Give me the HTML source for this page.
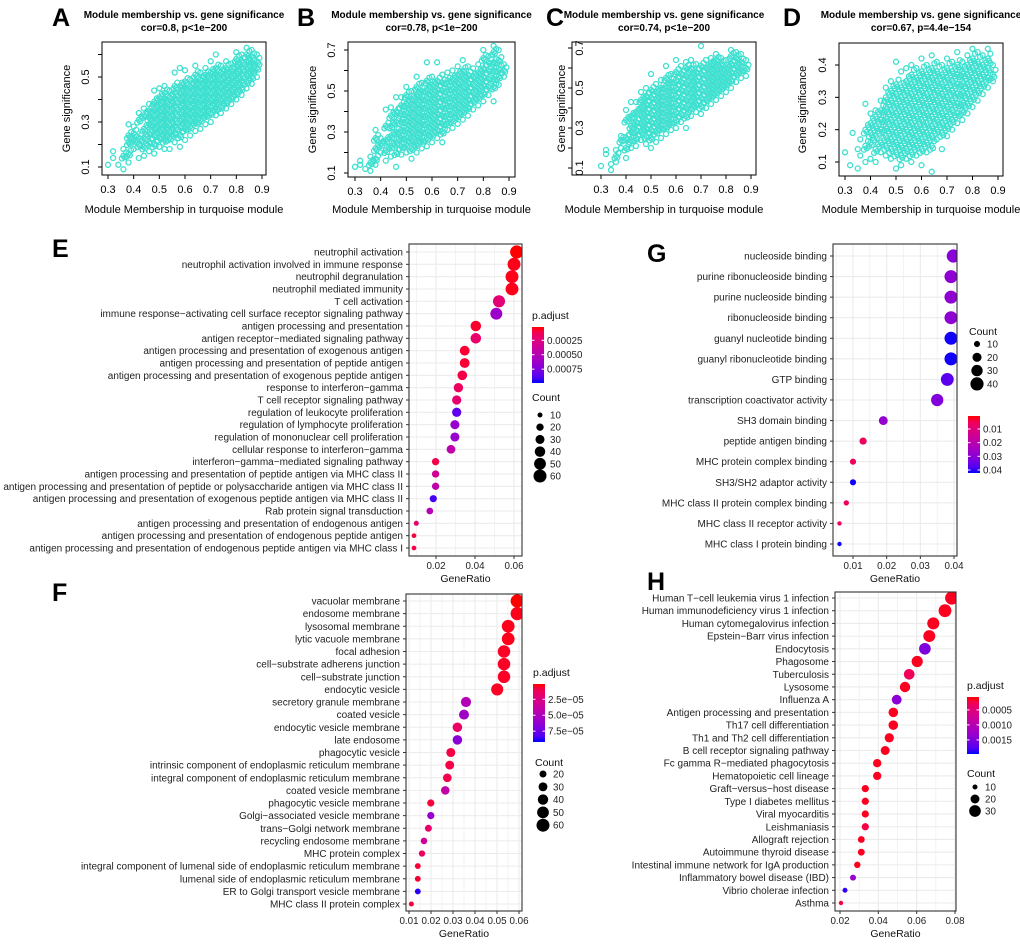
<!DOCTYPE html>
<html><head><meta charset="utf-8"><style>
html,body{margin:0;padding:0;background:#fff;}
svg{display:block;font-family:"Liberation Sans",Arial,sans-serif;}
</style></head><body>
<svg id="fig" width="1020" height="947" viewBox="0 0 1020 947" xmlns="http://www.w3.org/2000/svg"></svg>
<script>
// ---------- Scatter data (columns: x, list of y) ----------
const scatterA=[[0.30,[0.11]],[0.32,[0.14,0.17]],[0.34,[0.11]],[0.36,[0.09,0.15,0.18]],[0.38,[0.12,0.16,0.21,0.24,0.29]],[0.40,[0.18,0.22,0.25,0.28]],[0.42,[0.14,0.20,0.23,0.31,0.34]],[0.44,[0.15,0.19,0.23,0.27,0.33,0.36]],[0.46,[0.17,0.21,0.25,0.29,0.32,0.35,0.38]],[0.48,[0.16,0.20,0.24,0.27,0.30,0.33,0.36,0.39,0.44]],[0.50,[0.19,0.23,0.26,0.29,0.32,0.35,0.38,0.41,0.45]],[0.52,[0.18,0.22,0.25,0.28,0.31,0.34,0.37,0.40,0.43,0.46]],[0.54,[0.18,0.23,0.26,0.29,0.32,0.35,0.38,0.41,0.44]],[0.56,[0.21,0.25,0.28,0.31,0.34,0.37,0.40,0.43,0.46,0.52]],[0.58,[0.19,0.24,0.28,0.31,0.34,0.37,0.40,0.43,0.46,0.54]],[0.60,[0.22,0.27,0.30,0.33,0.36,0.39,0.42,0.45,0.48,0.53]],[0.62,[0.24,0.28,0.31,0.34,0.37,0.40,0.43,0.46,0.49]],[0.64,[0.26,0.30,0.33,0.36,0.39,0.42,0.45,0.48,0.51,0.55]],[0.66,[0.27,0.31,0.34,0.37,0.40,0.43,0.46,0.49,0.52]],[0.68,[0.29,0.33,0.36,0.39,0.42,0.45,0.48,0.51,0.54]],[0.70,[0.30,0.34,0.37,0.40,0.43,0.46,0.49,0.52,0.57]],[0.72,[0.33,0.36,0.39,0.42,0.45,0.48,0.51,0.54,0.60]],[0.74,[0.34,0.37,0.40,0.43,0.46,0.49,0.52,0.55]],[0.76,[0.36,0.39,0.42,0.45,0.48,0.51,0.54,0.57]],[0.78,[0.38,0.41,0.44,0.47,0.50,0.53,0.56]],[0.80,[0.40,0.43,0.46,0.49,0.52,0.55,0.58,0.61]],[0.82,[0.42,0.45,0.48,0.51,0.54,0.57,0.60]],[0.84,[0.45,0.48,0.51,0.54,0.57,0.60,0.63]],[0.86,[0.47,0.50,0.53,0.56,0.59,0.62]],[0.88,[0.50,0.54,0.57,0.60]]];
const scatterB=[[0.30,[0.13]],[0.32,[0.16,0.14]],[0.34,[0.12]],[0.36,[0.11,0.15,0.18]],[0.38,[0.14,0.17,0.22,0.27,0.31]],[0.40,[0.20,0.24,0.27]],[0.42,[0.16,0.21,0.26,0.33,0.41]],[0.44,[0.18,0.23,0.28,0.33,0.38,0.42]],[0.46,[0.13,0.20,0.25,0.30,0.35,0.40,0.47]],[0.48,[0.19,0.23,0.27,0.31,0.35,0.39,0.43,0.47]],[0.50,[0.20,0.24,0.28,0.32,0.36,0.40,0.44,0.48,0.52]],[0.52,[0.17,0.22,0.26,0.30,0.34,0.38,0.42,0.46,0.50]],[0.54,[0.20,0.24,0.28,0.32,0.36,0.40,0.44,0.48,0.52,0.57]],[0.56,[0.22,0.26,0.30,0.34,0.38,0.42,0.46,0.50,0.54]],[0.58,[0.23,0.27,0.31,0.35,0.39,0.43,0.47,0.51,0.55,0.64]],[0.60,[0.25,0.29,0.33,0.37,0.41,0.45,0.49,0.53,0.57]],[0.62,[0.27,0.31,0.35,0.39,0.43,0.47,0.51,0.55,0.64]],[0.64,[0.25,0.30,0.34,0.38,0.42,0.46,0.50,0.54,0.58]],[0.66,[0.31,0.35,0.39,0.43,0.47,0.51,0.55,0.59]],[0.68,[0.32,0.36,0.40,0.44,0.48,0.52,0.56,0.60]],[0.70,[0.34,0.38,0.42,0.46,0.50,0.54,0.58,0.62]],[0.72,[0.36,0.40,0.44,0.48,0.52,0.56,0.60,0.65]],[0.74,[0.38,0.42,0.46,0.50,0.54,0.58,0.62]],[0.76,[0.41,0.45,0.49,0.53,0.57,0.61]],[0.78,[0.43,0.47,0.51,0.55,0.59,0.63]],[0.80,[0.45,0.49,0.53,0.57,0.61,0.66,0.70]],[0.82,[0.48,0.52,0.56,0.60,0.64,0.67]],[0.84,[0.45,0.52,0.56,0.60,0.64,0.69,0.72]],[0.86,[0.53,0.57,0.61,0.65,0.70]],[0.88,[0.57,0.60,0.63]]];
const scatterC=[[0.30,[0.11]],[0.32,[0.17,0.19]],[0.34,[0.09,0.12]],[0.36,[0.13,0.16,0.19]],[0.38,[0.20,0.24,0.26]],[0.40,[0.15,0.20,0.25,0.34,0.39]],[0.42,[0.20,0.24,0.28,0.31,0.36,0.43]],[0.44,[0.21,0.25,0.29,0.33,0.38,0.43]],[0.46,[0.24,0.28,0.32,0.36,0.40,0.44,0.48]],[0.48,[0.22,0.26,0.30,0.34,0.38,0.42,0.46,0.50]],[0.50,[0.20,0.25,0.29,0.33,0.37,0.41,0.45,0.49,0.57]],[0.52,[0.23,0.28,0.32,0.36,0.40,0.44,0.48,0.52]],[0.54,[0.25,0.30,0.34,0.38,0.42,0.46,0.50,0.54]],[0.56,[0.27,0.31,0.35,0.39,0.43,0.47,0.51,0.55,0.61]],[0.58,[0.29,0.33,0.37,0.41,0.45,0.49,0.53,0.57]],[0.60,[0.30,0.34,0.38,0.42,0.46,0.50,0.54,0.58,0.64]],[0.62,[0.33,0.37,0.41,0.45,0.49,0.53,0.57,0.61]],[0.64,[0.30,0.36,0.40,0.44,0.48,0.52,0.56,0.60,0.63]],[0.66,[0.36,0.40,0.44,0.48,0.52,0.56,0.60,0.64]],[0.68,[0.38,0.42,0.46,0.50,0.54,0.58,0.62]],[0.70,[0.37,0.41,0.45,0.49,0.53,0.57,0.61,0.71]],[0.72,[0.40,0.44,0.48,0.52,0.56,0.60,0.64]],[0.74,[0.42,0.46,0.50,0.54,0.58,0.62,0.65]],[0.76,[0.44,0.48,0.52,0.56,0.60,0.64,0.67]],[0.78,[0.46,0.50,0.54,0.58,0.62,0.65]],[0.80,[0.48,0.52,0.56,0.60,0.64]],[0.82,[0.50,0.54,0.58,0.62,0.66,0.69]],[0.84,[0.53,0.57,0.61,0.65,0.68]],[0.86,[0.55,0.59,0.63,0.67]],[0.88,[0.56,0.60,0.64]]];
const scatterD=[[0.30,[0.13]],[0.32,[0.09]],[0.33,[0.19]],[0.35,[0.14,0.08]],[0.36,[0.17,0.12]],[0.38,[0.10,0.15,0.20,0.28]],[0.40,[0.11,0.16,0.19,0.22,0.25]],[0.42,[0.10,0.14,0.18,0.21,0.24,0.26]],[0.44,[0.13,0.16,0.20,0.23,0.26,0.29]],[0.46,[0.12,0.15,0.18,0.21,0.24,0.27,0.30,0.33]],[0.48,[0.11,0.14,0.17,0.20,0.23,0.26,0.29,0.32,0.35]],[0.50,[0.08,0.13,0.16,0.19,0.22,0.25,0.28,0.31,0.34,0.41]],[0.52,[0.09,0.12,0.15,0.18,0.21,0.24,0.27,0.30,0.33,0.38]],[0.54,[0.11,0.14,0.17,0.20,0.23,0.26,0.29,0.32,0.35,0.39]],[0.56,[0.10,0.13,0.16,0.19,0.22,0.25,0.28,0.31,0.34,0.37,0.40]],[0.58,[0.12,0.15,0.18,0.21,0.24,0.27,0.30,0.33,0.36,0.39]],[0.60,[0.09,0.14,0.17,0.20,0.23,0.26,0.29,0.32,0.35,0.38,0.42]],[0.62,[0.13,0.16,0.19,0.22,0.25,0.28,0.31,0.34,0.37,0.40]],[0.64,[0.07,0.15,0.18,0.21,0.24,0.27,0.30,0.33,0.36,0.39,0.43]],[0.66,[0.17,0.20,0.23,0.26,0.29,0.32,0.35,0.38,0.41]],[0.68,[0.14,0.19,0.22,0.25,0.28,0.31,0.34,0.37,0.40]],[0.70,[0.18,0.21,0.24,0.27,0.30,0.33,0.36,0.39,0.42]],[0.72,[0.20,0.23,0.26,0.29,0.32,0.35,0.38,0.41]],[0.74,[0.22,0.25,0.28,0.31,0.34,0.37,0.40,0.44]],[0.76,[0.23,0.26,0.29,0.32,0.35,0.38,0.41]],[0.78,[0.25,0.28,0.31,0.34,0.37,0.40,0.43]],[0.80,[0.27,0.30,0.33,0.36,0.39,0.42,0.45]],[0.82,[0.29,0.32,0.35,0.38,0.41,0.44]],[0.84,[0.31,0.34,0.37,0.40,0.43]],[0.86,[0.33,0.36,0.39,0.42,0.45]],[0.88,[0.35,0.37,0.40]]];
const corLabels=["cor=0.8, p<1e\u2212200","cor=0.78, p<1e\u2212200","cor=0.74, p<1e\u2212200","cor=0.67, p=4.4e\u2212154"];
const scatterXTicks=[0.3,0.4,0.5,0.6,0.7,0.8,0.9];
const yTicksA=[0.1,0.2,0.3,0.4,0.5,0.6], yLabA=[0.1,0.3,0.5];
const yTicksB=[0.1,0.2,0.3,0.4,0.5,0.6,0.7], yLabB=[0.1,0.3,0.5,0.7];
const yTicksD=[0.1,0.2,0.3,0.4], yLabD=[0.1,0.2,0.3,0.4];

// ---------- Dot plot data ----------
const termsE=["neutrophil activation","neutrophil activation involved in immune response","neutrophil degranulation","neutrophil mediated immunity","T cell activation","immune response\u2212activating cell surface receptor signaling pathway","antigen processing and presentation","antigen receptor\u2212mediated signaling pathway","antigen processing and presentation of exogenous antigen","antigen processing and presentation of peptide antigen","antigen processing and presentation of exogenous peptide antigen","response to interferon\u2212gamma","T cell receptor signaling pathway","regulation of leukocyte proliferation","regulation of lymphocyte proliferation","regulation of mononuclear cell proliferation","cellular response to interferon\u2212gamma","interferon\u2212gamma\u2212mediated signaling pathway","antigen processing and presentation of peptide antigen via MHC class II","antigen processing and presentation of peptide or polysaccharide antigen via MHC class II","antigen processing and presentation of exogenous peptide antigen via MHC class II","Rab protein signal transduction","antigen processing and presentation of endogenous antigen","antigen processing and presentation of endogenous peptide antigen","antigen processing and presentation of endogenous peptide antigen via MHC class I"];
const ratioE=[0.0614,0.060,0.059,0.059,0.0523,0.0509,0.0404,0.0404,0.0347,0.0347,0.0335,0.0315,0.0306,0.0306,0.0297,0.0297,0.0277,0.0198,0.0198,0.0198,0.0186,0.0168,0.0099,0.0087,0.0087];
const countE=[62,60,59,59,52,51,40,40,35,35,34,32,31,31,30,30,28,20,20,20,19,17,10,9,9];
const padjE=[0.00002,0.00003,0.00003,0.00003,0.00022,0.00062,0.00005,0.00018,0.00006,0.00006,0.00010,0.00015,0.00020,0.00085,0.00065,0.00065,0.00045,0.00010,0.00035,0.00045,0.00092,0.00050,0.00020,0.00008,0.00010];

const termsG=["nucleoside binding","purine ribonucleoside binding","purine nucleoside binding","ribonucleoside binding","guanyl nucleotide binding","guanyl ribonucleotide binding","GTP binding","transcription coactivator activity","SH3 domain binding","peptide antigen binding","MHC protein complex binding","SH3/SH2 adaptor activity","MHC class II protein complex binding","MHC class II receptor activity","MHC class I protein binding"];
const ratioG=[0.0398,0.0391,0.0391,0.0391,0.0391,0.0391,0.038,0.035,0.019,0.013,0.010,0.010,0.008,0.006,0.006];
const countG=[40,39,39,39,39,39,38,35,19,13,10,10,8,6,6];
const padjG=[0.030,0.029,0.029,0.029,0.042,0.042,0.037,0.031,0.028,0.006,0.006,0.042,0.006,0.006,0.042];

const termsF=["vacuolar membrane","endosome membrane","lysosomal membrane","lytic vacuole membrane","focal adhesion","cell\u2212substrate adherens junction","cell\u2212substrate junction","endocytic vesicle","secretory granule membrane","coated vesicle","endocytic vesicle membrane","late endosome","phagocytic vesicle","intrinsic component of endoplasmic reticulum membrane","integral component of endoplasmic reticulum membrane","coated vesicle membrane","phagocytic vesicle membrane","Golgi\u2212associated vesicle membrane","trans\u2212Golgi network membrane","recycling endosome membrane","MHC protein complex","integral component of lumenal side of endoplasmic reticulum membrane","lumenal side of endoplasmic reticulum membrane","ER to Golgi transport vesicle membrane","MHC class II protein complex"];
const ratioF=[0.0592,0.0592,0.0551,0.0551,0.0532,0.0532,0.0532,0.0501,0.0359,0.035,0.032,0.032,0.029,0.0285,0.0274,0.0265,0.0199,0.0199,0.0188,0.0168,0.0159,0.014,0.014,0.014,0.0111];
const countF=[62,62,58,58,56,56,56,53,38,37,34,34,31,30,29,28,21,21,20,18,17,15,15,15,12];
const padjF=[0.1e-5,0.2e-5,0.2e-5,0.2e-5,0.3e-5,0.3e-5,0.3e-5,0.3e-5,4.8e-5,5.6e-5,1.5e-5,6.5e-5,0.8e-5,0.8e-5,0.9e-5,4.0e-5,0.6e-5,6.0e-5,1.6e-5,3.2e-5,1.4e-5,0.5e-5,0.5e-5,9.0e-5,0.6e-5];

const termsH=["Human T\u2212cell leukemia virus 1 infection","Human immunodeficiency virus 1 infection","Human cytomegalovirus infection","Epstein\u2212Barr virus infection","Endocytosis","Phagosome","Tuberculosis","Lysosome","Influenza A","Antigen processing and presentation","Th17 cell differentiation","Th1 and Th2 cell differentiation","B cell receptor signaling pathway","Fc gamma R\u2212mediated phagocytosis","Hematopoietic cell lineage","Graft\u2212versus\u2212host disease","Type I diabetes mellitus","Viral myocarditis","Leishmaniasis","Allograft rejection","Autoimmune thyroid disease","Intestinal immune network for IgA production","Inflammatory bowel disease (IBD)","Vibrio cholerae infection","Asthma"];
const ratioH=[0.0783,0.0748,0.0687,0.0666,0.0643,0.0603,0.0561,0.0539,0.0496,0.0478,0.0478,0.0457,0.0436,0.0394,0.0394,0.0332,0.0332,0.0332,0.0332,0.0311,0.0311,0.029,0.0268,0.0226,0.0205];
const countH=[37,35,32,31,30,28,26,25,23,22,22,21,20,18,18,15,15,15,15,14,14,13,12,10,9];
const padjH=[0.0001,0.0001,0.0001,0.0001,0.0015,0.0001,0.0003,0.0001,0.0014,0.0001,0.0001,0.0001,0.0001,0.0001,0.0001,0.0001,0.0001,0.0001,0.0002,0.0001,0.0001,0.0001,0.0013,0.0019,0.0002];

const xTicksE=[0.02,0.04,0.06], xTicksG=[0.01,0.02,0.03,0.04], xTicksF=[0.01,0.02,0.03,0.04,0.05,0.06], xTicksH=[0.02,0.04,0.06,0.08];
const cbTicksE=[0.00025,0.00050,0.00075], cbLabE=["0.00025","0.00050","0.00075"];
const cbTicksG=[0.01,0.02,0.03,0.04], cbLabG=["0.01","0.02","0.03","0.04"];
const cbTicksF=[2.5e-5,5.0e-5,7.5e-5], cbLabF=["2.5e\u221205","5.0e\u221205","7.5e\u221205"];
const cbTicksH=[0.0005,0.0010,0.0015], cbLabH=["0.0005","0.0010","0.0015"];
const sizeLegE=[10,20,30,40,50,60], sizeLegG=[10,20,30,40], sizeLegF=[20,30,40,50,60], sizeLegH=[10,20,30];

// ---------- helpers ----------
const NS="http://www.w3.org/2000/svg";
const svg=document.getElementById('fig');
function mk(tag,attrs,parent,text){const e=document.createElementNS(NS,tag);for(const k in attrs)e.setAttribute(k,attrs[k]);if(text!==undefined)e.textContent=text;(parent||svg).appendChild(e);return e;}
function lin(d0,d1,r0,r1){return v=>r0+(v-d0)*(r1-r0)/(d1-d0);}

// ---------- scatter panels ----------
const scPanels=[
 {letter:"A",lx:52,data:scatterA,box:[102,42,266,175],xs:lin(0.3,0.9,108,262),ys:lin(0.1,0.5,167,77),yt:yTicksA,yl:yLabA,ylabX:70,ytickX:89},
 {letter:"B",lx:297,data:scatterB,box:[348,42,515,177],xs:lin(0.3,0.9,355,509),ys:lin(0.1,0.7,173,50),yt:yTicksB,yl:yLabB,ylabX:316,ytickX:335},
 {letter:"C",lx:546,data:scatterC,box:[572,42,756,175],xs:lin(0.3,0.9,601,751),ys:lin(0.1,0.7,168,48),yt:yTicksB,yl:yLabB,ylabX:565,ytickX:583},
 {letter:"D",lx:783,data:scatterD,box:[839,43,1003,176],xs:lin(0.3,0.9,845,998),ys:lin(0.1,0.4,162,65),yt:yTicksD,yl:yLabD,ylabX:806,ytickX:826}
];
scPanels.forEach((p,i)=>{
  const g=mk('g',{});
  
  
  const [x0,y0,x1,y1]=p.box, cx=(x0+x1)/2;
  const L=mk('text',{x:p.lx,y:26,'font-size':25,'font-weight':'bold'},g,p.letter);
  
  
  const t1=mk('text',{x:cx,y:18,'font-size':10,'font-weight':'bold','text-anchor':'middle'},g,"Module membership vs. gene significance");
  
  
  const t2=mk('text',{x:cx,y:31,'font-size':10,'font-weight':'bold','text-anchor':'middle'},g,corLabels[i]);
  
  
  const pts=mk('g',{fill:'none',stroke:'#40E0D0','stroke-width':1.3},g);
  
  
  const offs=[[0,0],[0.01,0.015],[-0.006,-0.012],[0.005,-0.007]];
  p.data.forEach((col,ci)=>col[1].forEach((y,yi)=>{
    const ext=(yi>0&&yi<col[1].length-1)?offs:offs.slice(0,1);
    ext.forEach(o=>{
      const c=mk('circle',{cx:p.xs(col[0]+o[0]).toFixed(1),cy:p.ys(y+o[1]).toFixed(1),r:2.5},pts);
      
      
    });
  }));
  const b=mk('rect',{x:x0,y:y0,width:x1-x0,height:y1-y0,fill:'none',stroke:'#000','stroke-width':1},g);
  
  
  scatterXTicks.forEach(v=>{
    const x=p.xs(v);
    mk('line',{x1:x,x2:x,y1:y1,y2:y1+4,stroke:'#000'},g);
    const tl=mk('text',{x:x,y:y1+18,'font-size':11,'text-anchor':'middle'},g,v.toFixed(1));
    
    
  });
  p.yt.forEach(v=>{const y=p.ys(v);mk('line',{x1:x0-4,x2:x0,y1:y,y2:y,stroke:'#000'},g);});
  p.yl.forEach(v=>{
    const y=p.ys(v);
    const tl=mk('text',{x:p.ytickX,y:y,'font-size':11,'text-anchor':'middle',transform:`rotate(-90 ${p.ytickX} ${y})`},g,v.toFixed(1));
    
    
  });
  const xl=mk('text',{x:cx,y:213,'font-size':11,'text-anchor':'middle'},g,"Module Membership in turquoise module");
  
  
  const ymid=(y0+y1)/2;
  const yl=mk('text',{x:p.ylabX,y:ymid,'font-size':11,'text-anchor':'middle',transform:`rotate(-90 ${p.ylabX} ${ymid})`},g,"Gene significance");
  
  
});

// ---------- dot plots ----------
function colorFor(t){t=Math.max(0,Math.min(1,t));const r=Math.round(255*Math.sqrt(1-t)),b=Math.round(255*Math.sqrt(t));return `rgb(${r},0,${b})`;}
const dotPanels=[
 {letter:"E",lx:52,ly:257,terms:termsE,ratio:ratioE,count:countE,padj:padjE,box:[409,244,522,556],rowY:[252,548],xs:lin(0.02,0.06,436,514),xt:xTicksE,xlab:v=>v.toFixed(2),
  cb:{x:532,y0:327,y1:383,p0:0.00002,p1:0.00099,ticks:cbTicksE,labs:cbLabE,title:true},size:{title:401,y0:415,step:12.2,vals:sizeLegE,x:540},cmin:8,cmax:62},
 {letter:"G",lx:647,ly:262,terms:termsG,ratio:ratioG,count:countG,padj:padjG,box:[833,244,957,556],rowY:[256,544],xs:lin(0.01,0.04,853,954),xt:xTicksG,xlab:v=>v.toFixed(2),
  cb:{x:968,y0:416,y1:473,p0:0.0005,p1:0.0422,ticks:cbTicksG,labs:cbLabG,title:false},size:{title:335,y0:344,step:13.3,vals:sizeLegG,x:977},cmin:6,cmax:40},
 {letter:"F",lx:52,ly:601,terms:termsF,ratio:ratioF,count:countF,padj:padjF,box:[406,594,522,911],rowY:[601,904],xs:lin(0.01,0.06,409,519),xt:xTicksF,xlab:v=>v.toFixed(2),
  cb:{x:533,y0:684,y1:742,p0:0.1e-5,p1:9.2e-5,ticks:cbTicksF,labs:cbLabF,title:true},size:{title:766,y0:774,step:12.8,vals:sizeLegF,x:543},cmin:10,cmax:62},
 {letter:"H",lx:647,ly:590,terms:termsH,ratio:ratioH,count:countH,padj:padjH,box:[835,592,956,911],rowY:[598,903],xs:lin(0.02,0.08,840,955),xt:xTicksH,xlab:v=>v.toFixed(2),
  cb:{x:967,y0:697,y1:754,p0:0.00007,p1:0.00197,ticks:cbTicksH,labs:cbLabH,title:true},size:{title:777,y0:787,step:12,vals:sizeLegH,x:975},cmin:9,cmax:37}
];
let gid=0;
dotPanels.forEach(p=>{
  const g=mk('g',{});
  
  
  const [x0,y0,x1,y1]=p.box;
  const L=mk('text',{x:p.lx,y:p.ly,'font-size':25,'font-weight':'bold'},g,p.letter);
  
  
  const n=p.terms.length;
  const ry=lin(0,n-1,p.rowY[0],p.rowY[1]);
  const rad=c=>Math.sqrt(2.2*2.2+(c-p.cmin)*(6.6*6.6-2.2*2.2)/(p.cmax-p.cmin));
  const grid=mk('g',{stroke:'#ebebeb'},g);
  
  
  const step=p.xt[1]-p.xt[0];
  for(let v=p.xt[0]-step*2;v<=p.xt[p.xt.length-1]+step*2;v+=step/2){
    const x=p.xs(v); if(x<=x0||x>=x1)continue;
    const fr=Math.abs(((v-p.xt[0])/step)%1);
    mk('line',{x1:x,x2:x,y1:y0,y2:y1,'stroke-width':(fr<0.01||fr>0.99)?1.1:0.6},grid);
  }
  for(let i=0;i<n;i++){const y=ry(i);mk('line',{x1:x0,x2:x1,y1:y,y2:y,'stroke-width':1.1},grid);}
  const cid='clip'+(gid++);
  const cp=mk('clipPath',{id:cid},g);mk('rect',{x:x0,y:y0,width:x1-x0,height:y1-y0},cp);
  const dots=mk('g',{'clip-path':`url(#${cid})`},g);
  
  
  for(let i=0;i<n;i++){
    const y=ry(i);
    const lab=mk('text',{x:x0-6,y:y+3.5,'font-size':10,'text-anchor':'end',fill:'#222'},g,p.terms[i]);
    
    
    mk('line',{x1:x0-3,x2:x0,y1:y,y2:y,stroke:'#333'},g);
    const c=mk('circle',{cx:p.xs(p.ratio[i]).toFixed(1),cy:y.toFixed(1),r:rad(p.count[i]).toFixed(2),fill:colorFor((p.padj[i]-p.cb.p0)/(p.cb.p1-p.cb.p0))},dots);
    
    
  }
  const b=mk('rect',{x:x0,y:y0,width:x1-x0,height:y1-y0,fill:'none',stroke:'#333','stroke-width':1.1},g);
  
  
  p.xt.forEach(v=>{
    const x=p.xs(v);
    mk('line',{x1:x,x2:x,y1:y1,y2:y1+3,stroke:'#333'},g);
    const tl=mk('text',{x:x,y:y1+13,'font-size':9.8,'text-anchor':'middle',fill:'#222'},g,p.xlab(v));
    
    
  });
  const xt=mk('text',{x:(x0+x1)/2,y:y1+26,'font-size':10.5,'text-anchor':'middle',fill:'#111'},g,"GeneRatio");
  
  
  const cb=p.cb, gradId='grad'+gid;
  const defs=mk('defs',{},g);
  const lg=mk('linearGradient',{id:gradId,x1:0,y1:0,x2:0,y2:1},defs);
  for(let k=0;k<=10;k++)mk('stop',{offset:k/10,'stop-color':colorFor(k/10)},lg);
  const cbg=mk('g',{},g);
  
  
  if(cb.title)mk('text',{x:cb.x,y:cb.y0-8,'font-size':10.5,fill:'#111'},cbg,"p.adjust");
  mk('rect',{x:cb.x,y:cb.y0,width:12,height:cb.y1-cb.y0,fill:`url(#${gradId})`},cbg);
  const cy=lin(cb.p0,cb.p1,cb.y0,cb.y1);
  cb.ticks.forEach((v,k)=>{
    const y=cy(v);
    mk('line',{x1:cb.x,x2:cb.x+2.5,y1:y,y2:y,stroke:'#fff'},cbg);
    mk('line',{x1:cb.x+9.5,x2:cb.x+12,y1:y,y2:y,stroke:'#fff'},cbg);
    mk('text',{x:cb.x+15,y:y+3.5,'font-size':9.8,fill:'#222'},cbg,cb.labs[k]);
  });
  const s=p.size;
  const sg=mk('g',{},g);
  
  
  mk('text',{x:s.x-8,y:s.title,'font-size':10.5,fill:'#111'},sg,"Count");
  s.vals.forEach((v,k)=>{
    const y=s.y0+k*s.step;
    mk('circle',{cx:s.x,cy:y,r:rad(v).toFixed(2),fill:'#000'},sg);
    mk('text',{x:s.x+10,y:y+3.5,'font-size':9.8,fill:'#222'},sg,v);
  });
});
</script>
</body></html>
